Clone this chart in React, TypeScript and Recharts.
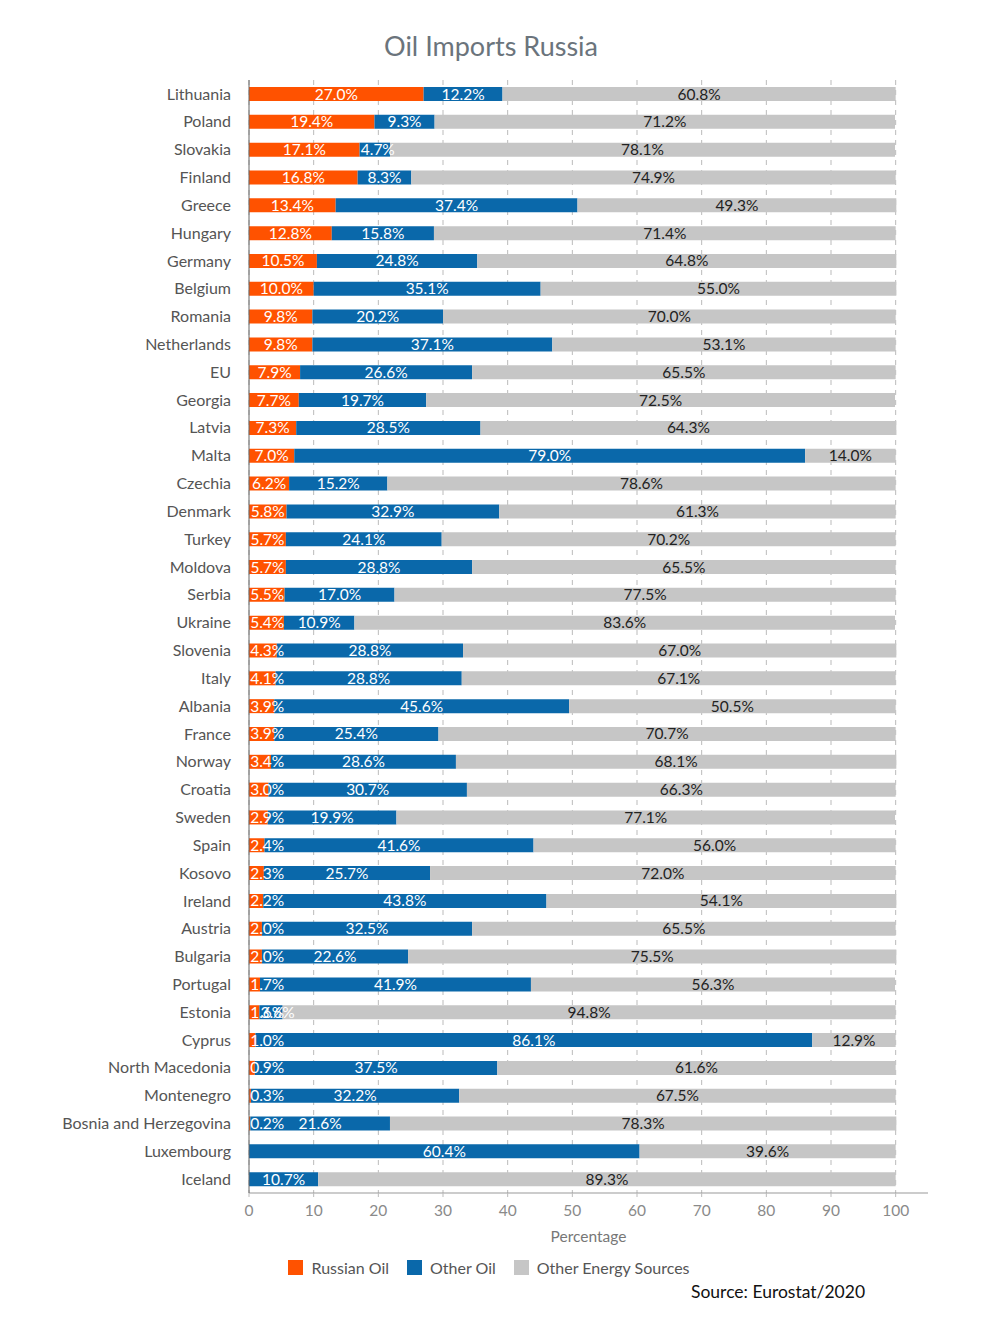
import { BarChart, Bar, XAxis, YAxis, CartesianGrid, LabelList } from 'recharts';

const countries = [
  'Lithuania', 'Poland', 'Slovakia', 'Finland', 'Greece', 'Hungary', 'Germany', 'Belgium',
  'Romania', 'Netherlands', 'EU', 'Georgia', 'Latvia', 'Malta', 'Czechia', 'Denmark',
  'Turkey', 'Moldova', 'Serbia', 'Ukraine', 'Slovenia', 'Italy', 'Albania', 'France',
  'Norway', 'Croatia', 'Sweden', 'Spain', 'Kosovo', 'Ireland', 'Austria', 'Bulgaria',
  'Portugal', 'Estonia', 'Cyprus', 'North Macedonia', 'Montenegro', 'Bosnia and Herzegovina',
  'Luxembourg', 'Iceland'
];

const russianOil = [
  27.0, 19.4, 17.1, 16.8, 13.4, 12.8, 10.5, 10.0, 9.8, 9.8, 7.9, 7.7, 7.3, 7.0, 6.2, 5.8,
  5.7, 5.7, 5.5, 5.4, 4.3, 4.1, 3.9, 3.9, 3.4, 3.0, 2.9, 2.4, 2.3, 2.2, 2.0, 2.0,
  1.7, 1.6, 1.0, 0.9, 0.3, 0.2, 0.0, 0.0
];

const otherOil = [
  12.2, 9.3, 4.7, 8.3, 37.4, 15.8, 24.8, 35.1, 20.2, 37.1, 26.6, 19.7, 28.5, 79.0, 15.2, 32.9,
  24.1, 28.8, 17.0, 10.9, 28.8, 28.8, 45.6, 25.4, 28.6, 30.7, 19.9, 41.6, 25.7, 43.8, 32.5, 22.6,
  41.9, 3.6, 86.1, 37.5, 32.2, 21.6, 60.4, 10.7
];

const otherEnergy = [
  60.8, 71.2, 78.1, 74.9, 49.3, 71.4, 64.8, 55.0, 70.0, 53.1, 65.5, 72.5, 64.3, 14.0, 78.6, 61.3,
  70.2, 65.5, 77.5, 83.6, 67.0, 67.1, 50.5, 70.7, 68.1, 66.3, 77.1, 56.0, 72.0, 54.1, 65.5, 75.5,
  56.3, 94.8, 12.9, 61.6, 67.5, 78.3, 39.6, 89.3
];

const xTicks = [0, 10, 20, 30, 40, 50, 60, 70, 80, 90, 100];
const xMax = 105;

const data = countries.map((name, i) => ({
  name,
  russian: russianOil[i],
  other: otherOil[i],
  energy: otherEnergy[i]
}));

const FONT = 'Lato, "Open Sans", sans-serif';
const ORANGE = '#ff5200';
const BLUE = '#0a68aa';
const GRAY = '#c6c6c6';

// centred in the segment, but never starting left of the segment
const makeLabel = (color: string) => (props: any) => {
  const { x, y, width, height, value } = props;
  if (!value) return null;
  const text = `${Number(value).toFixed(1)}%`;
  const est = text.length * 8.6;
  const cx = Math.max(x + width / 2, x + est / 2 + 1);
  return (
    <text
      x={cx}
      y={y + height / 2 + 5.5}
      textAnchor="middle"
      fill={color}
      fontSize={15.5}
      fontFamily={FONT}
    >
      {text}
    </text>
  );
};

// grid only at the ticks, not at the end of the (wider) domain
const gridX = (args: any) => {
  const { offset } = args;
  return xTicks.map((t) => offset.left + (t / xMax) * offset.width);
};

const legendItems = [
  { label: 'Russian Oil', color: ORANGE },
  { label: 'Other Oil', color: BLUE },
  { label: 'Other Energy Sources', color: GRAY }
];

export default function App() {
  return (
    <div style={{ position: 'absolute', left: 0, top: 0, width: 1000, height: 1330, background: '#fff' }}>
      <div
        style={{
          position: 'absolute', top: 29, left: 0, width: 982, textAlign: 'center',
          fontFamily: FONT, fontSize: 27, color: '#6b747c'
        }}
      >
        Oil Imports Russia
      </div>
      <BarChart
        width={1000}
        height={1330}
        data={data}
        layout="vertical"
        barSize={14}
        margin={{ top: 80, right: 72, left: 0, bottom: 77 }}
      >
        <CartesianGrid
          horizontal={false}
          stroke="#bbb"
          strokeDasharray="5 5"
          verticalCoordinatesGenerator={gridX}
        />
        <XAxis
          type="number"
          domain={[0, xMax]}
          ticks={xTicks}
          height={60}
          stroke="#999"
          tickLine={{ stroke: '#bbb' }}
          tickSize={4}
          tickMargin={8}
          tick={{ fill: '#8a8a8a', fontSize: 15.5, fontFamily: FONT }}
          label={{ value: 'Percentage', position: 'insideBottom', offset: 11, fill: '#777', fontSize: 15.5, fontFamily: FONT }}
        />
        <YAxis
          type="category"
          dataKey="name"
          width={249}
          stroke="#666"
          tickLine={false}
          tickSize={10}
          tickMargin={8}
          interval={0}
          tick={{ fill: '#555', fontSize: 16, fontFamily: FONT }}
        />
        <Bar dataKey="russian" stackId="a" fill={ORANGE} isAnimationActive={false}>
          <LabelList dataKey="russian" content={makeLabel('#fff')} />
        </Bar>
        <Bar dataKey="other" stackId="a" fill={BLUE} isAnimationActive={false}>
          <LabelList dataKey="other" content={makeLabel('#fff')} />
        </Bar>
        <Bar dataKey="energy" stackId="a" fill={GRAY} isAnimationActive={false}>
          <LabelList dataKey="energy" content={makeLabel('#222')} />
        </Bar>
      </BarChart>
      <div
        style={{
          position: 'absolute', top: 1258, left: 0, width: 996, display: 'flex', justifyContent: 'center',
          fontFamily: FONT, fontSize: 16, color: '#555'
        }}
      >
        {legendItems.map((it) => (
          <div key={it.label} style={{ display: 'flex', alignItems: 'center', marginRight: 18 }}>
            <span style={{ width: 15, height: 15, background: it.color, display: 'inline-block', marginRight: 8 }} />
            {it.label}
          </div>
        ))}
      </div>
      <div
        style={{
          position: 'absolute', top: 1281, left: 691, fontFamily: FONT, fontSize: 17.5, color: '#111'
        }}
      >
        Source: Eurostat/2020
      </div>
    </div>
  );
}
